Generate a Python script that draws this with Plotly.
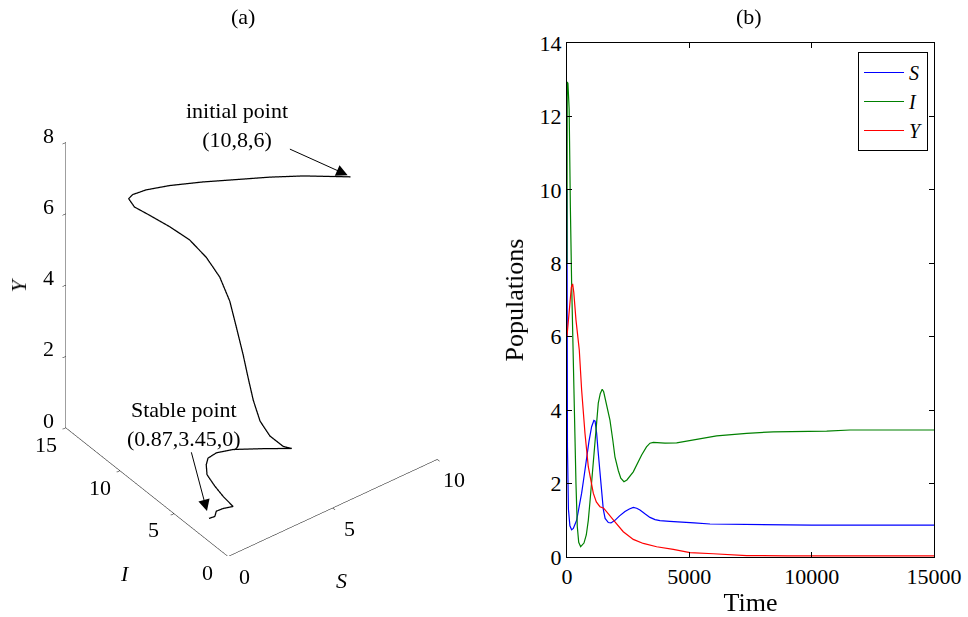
import plotly.graph_objects as go

# ---------------- Panel (a): 3-D trajectory (S, I, Y) ----------------
S_a = [10, 8, 6.5, 5, 3.7, 2.5, 1.6, 1.1, 0.85, 0.75, 0.7, 0.75, 0.85, 1.0, 1.2, 1.4,
       1.6, 1.8, 2.0, 2.3, 2.7, 3.2, 3.6, 3.75, 2.95, 2.0, 1.6, 1.35, 1.15, 1.0, 0.95,
       1.0, 1.2, 1.35, 1.1, 1.0, 0.87]
I_a = [8, 8.5, 8.69, 8.9, 9.47, 10.24, 10.67, 10.94, 10.83, 10.1, 8.62, 6.86, 5.19,
       3.94, 3.09, 2.55, 2.32, 2.09, 2.01, 2.12, 2.27, 2.32, 1.86, 1.37, 2.42, 3.4,
       4.17, 4.46, 4.24, 3.88, 3.07, 2.39, 1.86, 3.07, 3.21, 3.16, 3.45]
Y_a = [6, 6.45, 6.78, 7.07, 7.22, 7.26, 7.28, 7.22, 7.2, 7.17, 7.31, 7.40, 7.40, 7.17,
       6.77, 6.17, 5.43, 4.67, 3.98, 3.25, 2.52, 1.95, 1.66, 1.68, 1.64, 1.64, 1.47,
       1.32, 1.24, 1.09, 0.98, 0.84, 0.63, 0.24, 0.2, 0.09, 0]

S_ticks = [0, 5, 10]
I_ticks = [0, 5, 10, 15]
Y_ticks = [0, 2, 4, 6, 8]

# ---------------- Panel (b): populations vs time ----------------
t_S = [0, 20, 60, 120, 190, 260, 395, 500, 600, 700, 804, 900, 1008, 1100, 1150, 1213,
       1270, 1322, 1400, 1485, 1560, 1690, 1800, 1961, 2150, 2370, 2550, 2710, 2850,
       2983, 3200, 3392, 3600, 3800, 4200, 4618, 5200, 5844, 7000, 8433, 8600, 10000, 15000]
S_b = [10, 3.0, 1.3, 0.85, 0.74, 0.78, 1.0, 1.35, 1.74, 2.2, 2.73, 3.15, 3.55, 3.72, 3.7,
       3.37, 2.9, 2.46, 1.9, 1.3, 1.05, 0.94, 0.93, 1.0, 1.12, 1.24, 1.31, 1.35, 1.33,
       1.28, 1.17, 1.08, 1.02, 0.99, 0.97, 0.96, 0.93, 0.90, 0.89, 0.885, 0.87, 0.87, 0.87]

t_I = [0, 12, 40, 90, 110, 140, 190, 233, 259, 327, 368, 422, 480, 559, 640, 695, 790,
       872, 940, 1008, 1080, 1144, 1220, 1280, 1360, 1440, 1500, 1600, 1757, 1870, 1961,
       2100, 2200, 2329, 2450, 2710, 2900, 3052, 3250, 3392, 3529, 3800, 4005, 4483,
       5300, 6117, 7343, 8433, 10613, 11566, 15000]
I_b = [8, 12.94, 12.9, 12.2, 9.9, 9.5, 7.5, 6.1, 4.82, 3.37, 2.0, 0.83, 0.4, 0.28, 0.33,
       0.38, 0.6, 1.0, 1.5, 2.0, 2.6, 3.19, 3.7, 4.19, 4.45, 4.57, 4.5, 4.2, 3.73, 3.2,
       2.73, 2.35, 2.15, 2.05, 2.1, 2.32, 2.6, 2.78, 3.0, 3.10, 3.12, 3.11, 3.10, 3.11,
       3.21, 3.30, 3.37, 3.41, 3.43, 3.46, 3.46]

t_Y = [0, 100, 180, 232, 280, 368, 504, 600, 736, 872, 1000, 1076, 1200, 1348, 1500,
       1621, 1800, 1961, 2302, 2710, 3119, 3665, 4345, 5027, 5980, 7343, 9000, 15000]
Y_b = [6.0, 6.9, 7.35, 7.44, 7.2, 6.46, 5.64, 4.55, 3.37, 2.46, 1.95, 1.74, 1.5, 1.37,
       1.33, 1.24, 1.1, 0.96, 0.69, 0.48, 0.37, 0.28, 0.21, 0.12, 0.09, 0.04, 0.03, 0.03]

time_ticks = [0, 5000, 10000, 15000]
pop_ticks = [0, 2, 4, 6, 8, 10, 12, 14]

FONT = "Liberation Serif"
FS = 22
TXT = dict(family=FONT, size=FS, color="black")

fig = go.Figure()

fig.add_trace(go.Scatter3d(x=S_a, y=I_a, z=Y_a, mode="lines",
                           line=dict(color="black", width=2.5),
                           showlegend=False, hoverinfo="skip", scene="scene"))

fig.add_trace(go.Scatter(x=t_S, y=S_b, mode="lines", name="<i>S</i>",
                         line=dict(color="#0000FF", width=1.2)))
fig.add_trace(go.Scatter(x=t_I, y=I_b, mode="lines", name="<i>I</i>",
                         line=dict(color="#008000", width=1.2)))
fig.add_trace(go.Scatter(x=t_Y, y=Y_b, mode="lines", name="<i>Y</i>",
                         line=dict(color="#FF0000", width=1.2)))


def ax3d(rng, tv):
    return dict(range=rng, tickvals=tv, showticklabels=False, title=dict(text=""),
                showgrid=False, showbackground=False, zeroline=False,
                showline=True, linecolor="black", linewidth=1,
                ticks="outside", ticklen=4, tickcolor="black",
                showspikes=False, autorange=False)


# tick labels and axis titles of the 3-D box (upright text anchored at 3-D points)
scene_ann = []
for v in S_ticks:
    scene_ann.append(dict(x=v, y=0, z=0, text=str(v), showarrow=False,
                          xshift=17, yshift=-21, font=TXT))
for v in I_ticks:
    scene_ann.append(dict(x=0, y=v, z=0, text=str(v), showarrow=False,
                          xshift=-20, yshift=-17, font=TXT))
for v in Y_ticks:
    scene_ann.append(dict(x=0, y=15, z=v, text=str(v), showarrow=False,
                          xshift=-17, yshift=7, font=TXT))
scene_ann += [
    dict(x=5, y=0, z=0, text="<i>S</i>", showarrow=False, xshift=9, yshift=-73, font=TXT),
    dict(x=0, y=7.5, z=0, text="<i>I</i>", showarrow=False, xshift=-22, yshift=-82, font=TXT),
    dict(x=0, y=15, z=4, text="<i>Y</i>", showarrow=False, xshift=-47, yshift=0,
         textangle=-90, font=TXT),
    dict(x=10, y=8, z=6, text="initial point<br>(10,8,6)", showarrow=True,
         ax=-113, ay=-51, arrowhead=2, arrowsize=2.3, arrowwidth=1, standoff=3,
         arrowcolor="black", font=TXT),
    dict(x=0.87, y=3.45, z=0, text="Stable point<br>(0.87,3.45,0)", showarrow=True,
         ax=-25, ay=-94, arrowhead=2, arrowsize=2.3, arrowwidth=1, standoff=7,
         arrowcolor="black", font=TXT),
]

zoom = 1.033
eye_dir = (-0.4829, -0.6312, 0.6069)
dx = 3 / 968

fig.update_layout(
    width=968, height=617,
    margin=dict(l=0, r=0, t=0, b=0, autoexpand=False),
    paper_bgcolor="white", plot_bgcolor="white",
    font=TXT,
    showlegend=True,
    scene=dict(
        domain=dict(x=[dx, 0.513 + dx], y=[0.1, 0.926]),
        xaxis=ax3d([0, 10], S_ticks),
        yaxis=ax3d([0, 15], I_ticks),
        zaxis=ax3d([0, 8], Y_ticks),
        aspectmode="manual",
        aspectratio=dict(x=1.0 * zoom, y=1.0145 * zoom, z=1.362 * zoom),
        camera=dict(eye=dict(x=eye_dir[0] * 2, y=eye_dir[1] * 2, z=eye_dir[2] * 2),
                    up=dict(x=0, y=0, z=1), center=dict(x=0, y=0, z=0),
                    projection=dict(type="orthographic")),
        annotations=scene_ann,
    ),
    xaxis=dict(domain=[0.5857, 0.9649], range=[0, 15000], tickvals=time_ticks,
               ticktext=[str(v) for v in time_ticks], automargin=False,
               ticks="inside", ticklen=5, tickcolor="black", showline=True,
               linecolor="black", linewidth=1, mirror="ticks", showgrid=False,
               zeroline=False, title=dict(text="Time", standoff=8),
               tickfont=TXT),
    yaxis=dict(domain=[0.0972, 0.9303], range=[0, 14], tickvals=pop_ticks,
               ticktext=[str(v) for v in pop_ticks], automargin=False,
               ticks="inside", ticklen=5, tickcolor="black", showline=True,
               linecolor="black", linewidth=1, mirror="ticks", showgrid=False,
               zeroline=False, title=dict(text="Populations", standoff=8),
               tickfont=TXT),
    legend=dict(x=0.9587, y=0.9157, xanchor="right", yanchor="top",
                bordercolor="black", borderwidth=1, bgcolor="white",
                font=dict(family=FONT, size=20, color="black"),
                tracegroupgap=0, itemwidth=40),
    annotations=[
        dict(text="(a)", x=243 / 968, y=1 - 17 / 617, xref="paper", yref="paper",
             xanchor="center", yanchor="middle", showarrow=False, font=TXT),
        dict(text="(b)", x=749 / 968, y=1 - 17 / 617, xref="paper", yref="paper",
             xanchor="center", yanchor="middle", showarrow=False, font=TXT),
    ],
)

fig.write_html("out.html", config={"displayModeBar": False})
